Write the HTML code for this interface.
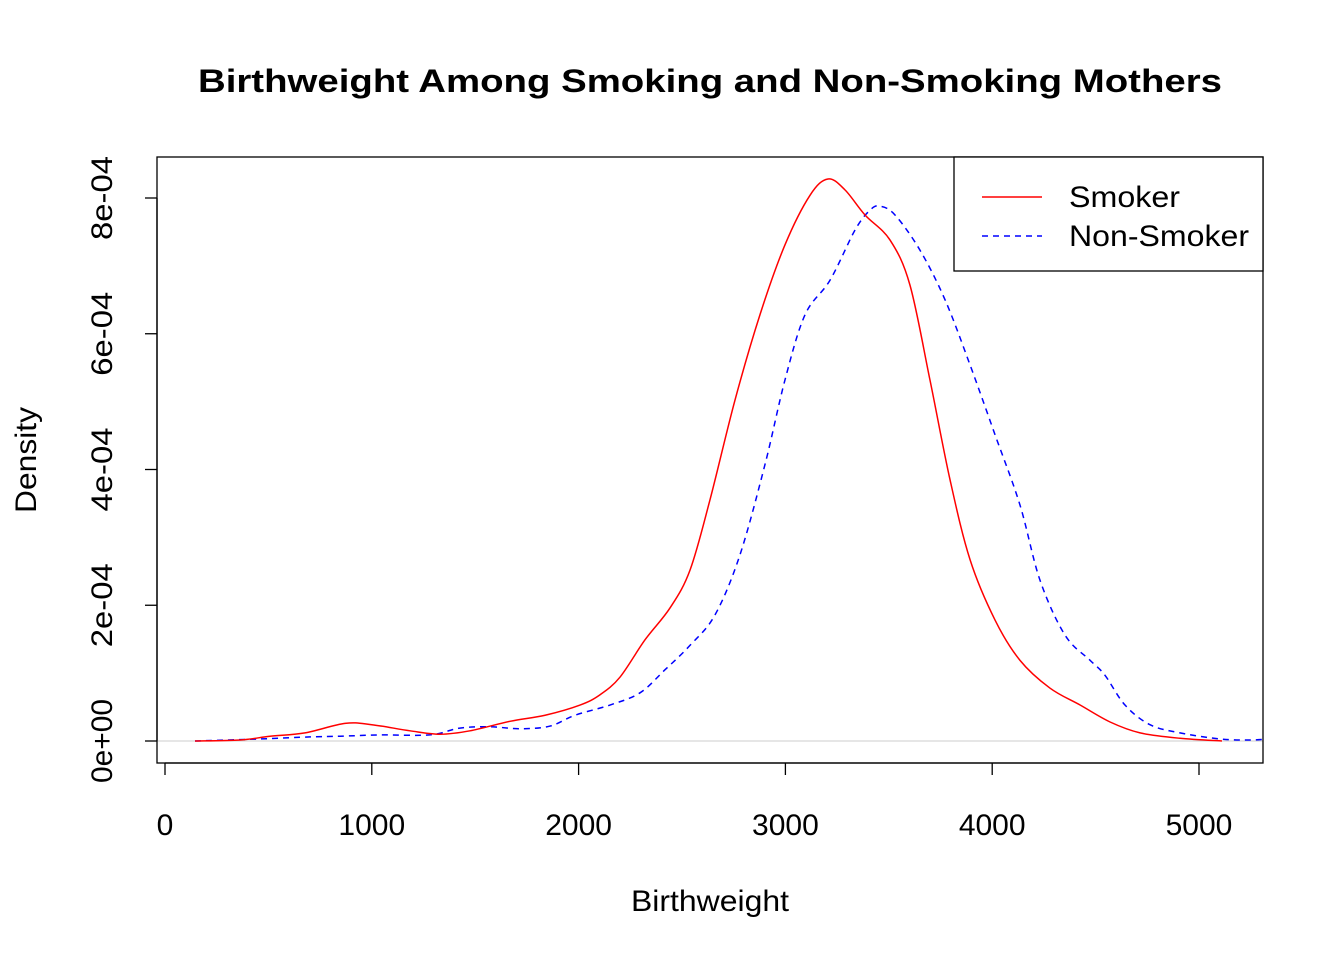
<!DOCTYPE html>
<html><head><meta charset="utf-8"><style>
body{margin:0;background:#fff;}
svg{display:block;font-family:"Liberation Sans",Arial,sans-serif;}
</style></head><body>
<svg width="1344" height="960">
<text x="710" y="92" text-anchor="middle" font-size="32" font-weight="bold" textLength="1024" lengthAdjust="spacingAndGlyphs">Birthweight Among Smoking and Non-Smoking Mothers</text>
<defs><clipPath id="clip"><rect x="157" y="157" width="1106" height="606"/></clipPath></defs>
<g id="axes"></g>
<g id="marks" clip-path="url(#clip)"></g>
<rect x="157" y="157" width="1106" height="606" fill="none" stroke="#000" stroke-width="1.3"/>
<text x="710" y="911" text-anchor="middle" font-size="30" textLength="158" lengthAdjust="spacingAndGlyphs">Birthweight</text>
<text transform="translate(36,460) rotate(-90)" text-anchor="middle" font-size="30" textLength="106" lengthAdjust="spacingAndGlyphs">Density</text>
<g>
<rect x="954" y="157" width="309" height="114" fill="#fff" stroke="#000" stroke-width="1.3"/>
<line x1="982" y1="197" x2="1042" y2="197" stroke="red" stroke-width="1.5"/>
<text x="1069" y="207" font-size="30" textLength="111" lengthAdjust="spacingAndGlyphs">Smoker</text>
<line x1="982" y1="236" x2="1042" y2="236" stroke="blue" stroke-width="1.5" stroke-dasharray="6,5"/>
<text x="1069" y="246" font-size="30" textLength="180" lengthAdjust="spacingAndGlyphs">Non-Smoker</text>
</g>
</svg>
<script>
const xTicks=[0,1000,2000,3000,4000,5000];
const yTicks=[0,2e-4,4e-4,6e-4,8e-4];
const yTickLabels=["0e+00","2e-04","4e-04","6e-04","8e-04"];
const smokerX=[145,363,508,677,870,1000,1185,1330,1475,1668,1838,2007,2103,2200,2321,2442,2539,2635,2756,2877,2998,3119,3206,3288,3385,3506,3602,3699,3796,3893,4014,4134,4279,4425,4570,4715,4908,5111];
const smokerY=[0,1.5e-6,7e-6,1.2e-5,2.6e-5,2.4e-5,1.5e-5,1e-5,1.5e-5,2.9e-5,3.8e-5,5.3e-5,6.8e-5,9.4e-5,1.49e-4,1.96e-4,2.52e-4,3.55e-4,5.02e-4,6.28e-4,7.31e-4,8.04e-4,8.28e-4,8.12e-4,7.75e-4,7.38e-4,6.72e-4,5.32e-4,3.85e-4,2.67e-4,1.78e-4,1.19e-4,7.8e-5,5.3e-5,2.8e-5,1.2e-5,4e-6,0];
const nonSmokerX=[145,459,701,846,1040,1281,1426,1572,1717,1862,1983,2152,2297,2418,2539,2660,2780,2901,2998,3095,3216,3337,3409,3457,3530,3651,3772,3893,4014,4134,4231,4352,4473,4545,4642,4763,4908,5102,5247,5343];
const nonSmokerY=[0,3e-6,6e-6,7e-6,9e-6,9e-6,1.9e-5,2.1e-5,1.8e-5,2.2e-5,3.8e-5,5.3e-5,7.1e-5,1.05e-4,1.41e-4,1.86e-4,2.74e-4,4.07e-4,5.32e-4,6.28e-4,6.79e-4,7.53e-4,7.82e-4,7.88e-4,7.75e-4,7.23e-4,6.5e-4,5.54e-4,4.51e-4,3.48e-4,2.37e-4,1.56e-4,1.19e-4,9.7e-5,5.3e-5,2.4e-5,1.2e-5,3e-6,1.5e-6,3e-6];
const NS="http://www.w3.org/2000/svg";
const sx=v=>165+v*(1199-165)/5000;
const sy=v=>741-v*(741-198)/8e-4;
const axes=document.getElementById('axes'), marks=document.getElementById('marks');
function mk(tag,attrs,parent){const e=document.createElementNS(NS,tag);for(const k in attrs)e.setAttribute(k,attrs[k]);parent.appendChild(e);return e;}
const xl=mk('line',{x1:sx(0),x2:sx(5000),y1:763,y2:763,stroke:'#000','stroke-width':1.3},axes);


xTicks.forEach(t=>{
 mk('line',{x1:sx(t),x2:sx(t),y1:763,y2:775,stroke:'#000','stroke-width':1.3},axes);
 const tx=mk('text',{x:sx(t),y:835,'text-anchor':'middle','font-size':30},axes);
 tx.textContent=t;
 
 
});
const yl=mk('line',{x1:157,x2:157,y1:sy(0),y2:sy(8e-4),stroke:'#000','stroke-width':1.3},axes);


yTicks.forEach((t,i)=>{
 mk('line',{x1:145,x2:157,y1:sy(t),y2:sy(t),stroke:'#000','stroke-width':1.3},axes);
 const tx=mk('text',{transform:`translate(112,${sy(t)}) rotate(-90)`,'text-anchor':'middle','font-size':30,textLength:84,lengthAdjust:'spacingAndGlyphs'},axes);
 tx.textContent=yTickLabels[i];
 
 
});
const zl=mk('line',{x1:157,x2:1263,y1:sy(0),y2:sy(0),stroke:'#ccc','stroke-width':1},marks);


function smooth(xs,ys){
 const p=xs.map((x,i)=>[sx(x),sy(ys[i])]);
 let d=`M${p[0][0]},${p[0][1]}`;
 for(let i=0;i<p.length-1;i++){
  const p0=p[Math.max(0,i-1)],p1=p[i],p2=p[i+1],p3=p[Math.min(p.length-1,i+2)];
  const c1=[p1[0]+(p2[0]-p0[0])/6,p1[1]+(p2[1]-p0[1])/6];
  const c2=[p2[0]-(p3[0]-p1[0])/6,p2[1]-(p3[1]-p1[1])/6];
  d+=`C${c1[0]},${c1[1]} ${c2[0]},${c2[1]} ${p2[0]},${p2[1]}`;
 }
 return d;
}
const s1=mk('path',{d:smooth(nonSmokerX,nonSmokerY),fill:'none',stroke:'blue','stroke-width':1.5,'stroke-dasharray':'6,5'},marks);


const s2=mk('path',{d:smooth(smokerX,smokerY),fill:'none',stroke:'red','stroke-width':1.5},marks);


</script>
</body></html>
